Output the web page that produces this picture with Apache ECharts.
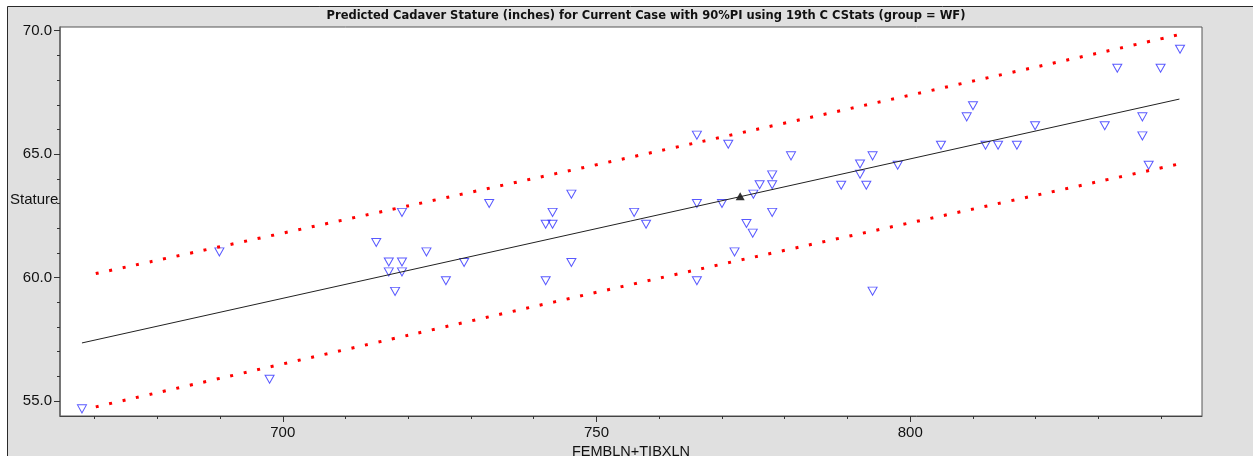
<!DOCTYPE html>
<html>
<head>
<meta charset="utf-8">
<script src="https://cdn.jsdelivr.net/npm/echarts@6/dist/echarts.min.js"></script>
<style>
  html, body { margin: 0; padding: 0; background: #fff; }
  #chart { width: 1253px; height: 456px; }
</style>
</head>
<body>
<div id="chart"></div>
<script>
   // observed cases (blue open triangles)
   var obsX = [668.0, 689.9, 697.9, 714.9, 716.9, 719.0, 716.9, 719.0, 717.9, 719.0,
               722.9, 728.9, 726.0, 732.9, 741.9, 743.0, 743.0, 741.9, 746.0, 746.0,
               756.0, 757.9, 766.0, 766.0, 766.0, 770.0, 771.0, 772.0, 773.9, 774.9,
               775.0, 776.0, 778.0, 778.0, 778.0, 781.0, 789.0, 792.0, 792.0, 793.0,
               794.0, 794.0, 798.0, 804.9, 809.0, 810.0, 812.0, 814.0, 817.0, 819.9,
               831.0, 833.0, 837.0, 837.0, 838.0, 839.9, 843.0];
   var obsY = [54.68, 61.04, 55.88, 61.42, 60.63, 60.63, 60.23, 60.23, 59.44, 62.64,
               61.04, 60.61, 59.87, 63.00, 62.16, 62.16, 62.64, 59.87, 63.38, 60.61,
               62.64, 62.16, 65.77, 63.00, 59.87, 63.00, 65.40, 61.04, 62.19, 61.80,
               63.38, 63.76, 64.16, 63.76, 62.64, 64.93, 63.74, 64.60, 64.19, 63.74,
               64.93, 59.45, 64.55, 65.36, 66.51, 66.96, 65.36, 65.36, 65.36, 66.15,
               66.15, 68.48, 66.51, 65.74, 64.55, 68.48, 69.25];

   // regression line and 90% prediction interval
   var fitX = [668.0, 842.9];
   var fitY = [57.35, 67.23];
   var piX = [670.2, 720.3, 766.6, 829.7, 843.0];
   var piUpper = [60.16, 62.92, 65.50, 69.08, 69.85];
   var piLower = [54.76, 57.68, 60.35, 63.87, 64.61];

   // current case
   var caseX = 772.9;
   var caseY = 63.29;

   // ticks
   var xMajor = [700, 750, 800];
   var xMinor = [670, 680, 690, 700, 710, 720, 730, 740, 750, 760, 770, 780, 790, 800, 810, 820, 830, 840];
   var yMajor = [55, 60, 65, 70];
   var yMinor = [55, 56, 57, 58, 59, 60, 61, 62, 63, 64, 65, 66, 67, 68, 69, 70];

   function pairs(xs, ys) {
       return xs.map(function (x, i) { return [x, ys[i]]; });
   }

   var fnt = '"Liberation Sans", Arial, sans-serif';
   var chart = echarts.init(document.getElementById('chart'), null, { renderer: 'canvas' });

   var option = {
       animation: false,
       backgroundColor: '#ffffff',
       title: {
           text: 'Predicted Cadaver Stature (inches) for Current Case with 90%PI using 19th C CStats (group = WF)',
           left: 641,
           textAlign: 'center',
           top: 5,
           textStyle: { fontFamily: '"DejaVu Sans", sans-serif', fontSize: 11.5, fontWeight: 'bold', color: '#111' }
       },
       graphic: [{
           type: 'rect',
           z: -100,
           shape: { x: 7.5, y: 6.5, width: 1260, height: 460 },
           style: { fill: '#e0e0e0', stroke: '#2a2a2a', lineWidth: 1 }
       }, {
           type: 'text',
           left: 10,
           top: 192,
           style: { text: 'Stature', font: '15px ' + fnt, fill: '#111' }
       }],
       grid: {
           left: 60, top: 27, right: 51, bottom: 40,
           outerBoundsMode: 'none',
           containLabel: false,
           show: true,
           backgroundColor: '#ffffff',
           borderColor: '#555',
           borderWidth: 1
       },
       xAxis: [{
           type: 'value',
           min: 664.5, max: 846.5,
           name: 'FEMBLN+TIBXLN',
           nameLocation: 'middle',
           nameGap: 19,
           nameTextStyle: { fontFamily: fnt, fontSize: 14.5, color: '#111' },
           splitLine: { show: false },
           axisLine: { show: true, onZero: false, lineStyle: { color: '#444' } },
           axisTick: { show: true, length: 6, customValues: xMajor, lineStyle: { color: '#333' } },
           axisLabel: { customValues: xMajor, margin: 9, fontFamily: fnt, fontSize: 15, color: '#111' }
       }, {
           type: 'value',
           min: 664.5, max: 846.5,
           position: 'bottom',
           splitLine: { show: false },
           axisLine: { show: false },
           axisTick: { show: true, length: 3, customValues: xMinor, lineStyle: { color: '#333' } },
           axisLabel: { show: false }
       }],
       yAxis: [{
           type: 'value',
           min: 54.39, max: 70.15,
           splitLine: { show: false },
           axisLine: { show: true, onZero: false, lineStyle: { color: '#666', width: 1.5 } },
           axisTick: { show: true, length: 6, customValues: yMajor, lineStyle: { color: '#333' } },
           axisLabel: {
               customValues: yMajor, margin: 8, fontFamily: fnt, fontSize: 15, color: '#111',
               formatter: function (v) { return v.toFixed(1); }
           }
       }, {
           type: 'value',
           min: 54.39, max: 70.15,
           position: 'left',
           splitLine: { show: false },
           axisLine: { show: false },
           axisTick: { show: true, length: 3, customValues: yMinor, lineStyle: { color: '#333' } },
           axisLabel: { show: false }
       }],
       series: [{
           name: 'upper',
           type: 'line',
           data: pairs(piX, piUpper),
           smooth: 0.3,
           showSymbol: false,
           lineStyle: { color: '#ff0000', width: 3, type: [3, 10.8], cap: 'butt' }
       }, {
           name: 'lower',
           type: 'line',
           data: pairs(piX, piLower),
           smooth: 0.3,
           showSymbol: false,
           lineStyle: { color: '#ff0000', width: 3, type: [3, 10.8], cap: 'butt' }
       }, {
           name: 'fit',
           type: 'line',
           data: pairs(fitX, fitY),
           showSymbol: false,
           lineStyle: { color: '#222', width: 1 }
       }, {
           name: 'obs',
           type: 'scatter',
           data: pairs(obsX, obsY),
           symbol: 'path://M0,0L10,0L5,8Z',
           symbolSize: [9, 8],
           itemStyle: { color: 'rgba(0,0,0,0)', borderColor: '#3030ff', borderWidth: 1 }
       }, {
           name: 'case',
           type: 'scatter',
           data: [[caseX, caseY]],
           symbol: 'triangle',
           symbolSize: [9, 8],
           itemStyle: { color: '#000' }
       }]
   };
   chart.setOption(option);
   window.onresize = function () {
       chart.resize();
   };
</script>
</body>
</html>
